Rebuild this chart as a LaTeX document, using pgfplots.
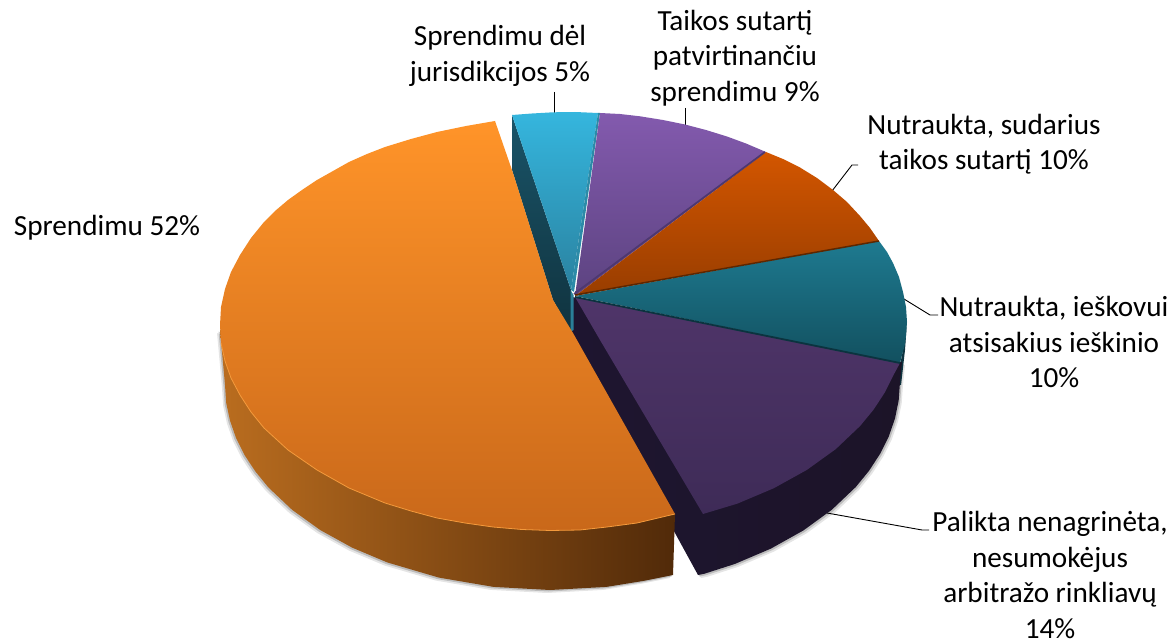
\documentclass[border=0pt]{standalone}
\usepackage{fontspec}
\setmainfont{Carlito}
\usepackage{pgfplots}
\usepackage{pgfplotstable}
\pgfplotsset{compat=1.18}
\definecolor{wallT}{HTML}{1A5468}
\definecolor{wallB}{HTML}{10333F}
\definecolor{tealSide}{HTML}{0E3440}
\definecolor{plumSL}{HTML}{1E1530}
\definecolor{plumSR}{HTML}{1C1428}
\definecolor{blueEdge}{HTML}{2A7F98}
\definecolor{blueT}{HTML}{35B6DE}
\definecolor{blueB}{HTML}{2A82A0}
\definecolor{blueEdgeB}{HTML}{2C8BA8}
\definecolor{purT}{HTML}{835AAE}
\definecolor{purB}{HTML}{5C4380}
\definecolor{purE}{HTML}{4E3870}
\definecolor{redT}{HTML}{D35600}
\definecolor{redB}{HTML}{983D00}
\definecolor{redE}{HTML}{5E2700}
\definecolor{tealT}{HTML}{1E7A90}
\definecolor{tealB}{HTML}{12505F}
\definecolor{tealE}{HTML}{0B333F}
\definecolor{plumT}{HTML}{4F3569}
\definecolor{plumB}{HTML}{3E2B57}
\definecolor{oraL}{HTML}{BA6D1F}
\definecolor{oraM}{HTML}{7A4413}
\definecolor{oraR}{HTML}{512A09}
\definecolor{oraT}{HTML}{FF9429}
\definecolor{oraB}{HTML}{C9681A}
\definecolor{oraE}{HTML}{F49A3C}
\pgfplotstableread{
x y
220 330
225 385
226.2 402.9
230 420.6
236.1 438.1
244.6 455.1
255.5 471.6
268.5 487.5
292.1 509.8
320.2 530
352.1 547.6
387.5 562.5
438.9 577.6
493.6 586.9
550 590
606.4 586.9
643 581
673 575
675 514
}\orangeside
\pgfplotstableread{
x y
495 121
466 126
437 132
411 139
385 147
367 154
349 162
333 171
317 180
302 190
288 200
275 211
264 222
251 238
240 255
231 272
225 289
221 307
220 325
221 343
225 361
231 378
240 395
251 412
264 428
288 450
317 470
349 488
385 503
411 511
437 518
465 523
493 527
522 529.5
550 530.5
580 530
607 527
637 523
675 514
573 333
553 300
513 173
}\orangetop
\pgfplotstableread{
x y
675 514
637 523
607 527
580 530
550 530.5
522 529.5
493 527
465 523
437 518
411 511
385 503
349 488
317 470
288 450
264 428
251 412
240 395
231 378
225 361
221 343
}\orangerim
\pgfplotstableread{
x y
572 297
902 362
900 382
898.7 400.3
895 418.5
888.8 436.4
880.1 453.8
869.1 470.7
855.8 487
831.8 509.8
803.3 530.5
770.9 548.6
735 563.9
704.2 573.8
698 575
675 533
572 340
}\plumside
\begin{document}
\begin{tikzpicture}
\begin{axis}[
  scale only axis, width=1176pt, height=641pt,
  xmin=0, xmax=1176, ymin=0, ymax=641, y dir=reverse,
  axis lines=none, clip=false,
  every axis plot/.append style={forget plot}
]
\path (axis cs:0,0) (axis cs:1176,641);
% leader lines
\addplot[black, line width=0.9pt] coordinates {(554,92) (554,113)};
\addplot[black, line width=0.9pt] coordinates {(685,108) (685,126)};
\addplot[black, line width=0.9pt] coordinates {(832,191) (852,165) (858,165)};
\addplot[black, line width=0.9pt] coordinates {(904,299) (930,315) (938,315)};
\addplot[black, line width=0.9pt] coordinates {(827,513) (922,530) (929,530)};
% shadows
\addplot[draw=none, fill=black, fill opacity=0.10, xshift=-3pt, yshift=-3pt] table {\orangeside};
\addplot[draw=none, fill=black, fill opacity=0.18, xshift=-1.5pt, yshift=-1.5pt] table {\orangeside};
\addplot[draw=none, fill=black, fill opacity=0.10, xshift=3pt, yshift=-3pt] table {\plumside};
\addplot[draw=none, fill=black, fill opacity=0.18, xshift=1.5pt, yshift=-1.5pt] table {\plumside};
\addplot[draw=none, fill=black!30, fill opacity=0.8] coordinates {(511,170) (513,173) (553,300) (572,334) (566,334) (548,300)};
% blue slice wall
\addplot[draw=none, top color=wallT, bottom color=wallB] coordinates {(512,115) (571,290) (571,332) (553,300) (513,173) (512,170)};
% dark sides
\addplot[draw=none, fill=tealSide] coordinates {(905,340) (907,322) (905,350) (901,385) (896,385)};
\addplot[draw=none, left color=plumSL, right color=plumSR] table {\plumside};
\addplot[draw=none, fill=blueEdge] coordinates {(570.5,290) (570.5,332) (573.5,330) (573.5,295)};
% blue top
\addplot[draw=none, top color=blueT, bottom color=blueB] coordinates {(512,115) (532,113.5) (553,112.3) (575,112) (598,113) (571,290)};
\addplot[draw=none, fill=blueEdgeB] coordinates {(598,113) (600,113) (574,292) (571,290)};
% purple top
\addplot[draw=none, top color=purT, bottom color=purB] coordinates {(600,113) (620,114) (640,116.3) (663,120) (685,124.5) (706,130) (727,136.5) (746,143.5) (766,152) (575,296)};
% red-orange top
\addplot[draw=none, top color=redT, bottom color=redB] coordinates {(766,152) (783,159) (800,167.5) (817,178) (833,190) (847,202) (860,216) (870,228) (879,241) (575,296)};
% teal top
\addplot[draw=none, top color=tealT, bottom color=tealB] coordinates {(879,241) (887,252) (893,263) (899,277) (903,292) (906,307) (907,322) (906,335) (905,344) (902,355) (900,363) (575,296)};
% plum top
\addplot[draw=none, top color=plumT, bottom color=plumB] coordinates {(900,363) (893.6,374.9) (884.8,392.5) (873.6,409.6) (860.1,426) (835.8,449.1) (806.9,469.9) (773.9,488.2) (737.5,503.6) (703,514) (600,340) (575,297)};
% edges between slices
\addplot[line width=1.8pt, color=purE] coordinates {(765,152) (574,294)};
\addplot[line width=1.5pt, color=redE] coordinates {(879,241) (575,295)};
\addplot[line width=1.8pt, color=tealE] coordinates {(900,363) (575,297)};
% orange
\addplot[draw=none, left color=oraL, middle color=oraM, right color=oraR] table {\orangeside};
\addplot[draw=none, top color=oraT, bottom color=oraB] table {\orangetop};
\addplot[line width=0.8pt, color=oraE] table {\orangerim};
% labels
\node[align=center, font=\fontsize{29.2}{35.5}\selectfont, anchor=center] at (axis cs:500,56) {Sprendimu dėl\\jurisdikcijos 5\%};
\node[align=center, font=\fontsize{29.2}{35.5}\selectfont, anchor=center] at (axis cs:735,58) {Taikos sutartį\\patvirtinančiu\\sprendimu 9\%};
\node[align=center, font=\fontsize{29.2}{35.5}\selectfont, anchor=center] at (axis cs:984,144) {Nutraukta, sudarius\\taikos sutartį 10\%};
\node[align=center, font=\fontsize{29.2}{35.5}\selectfont, anchor=center] at (axis cs:1054,342) {Nutraukta, ieškovui\\atsisakius ieškinio\\10\%};
\node[align=center, font=\fontsize{29.2}{35.5}\selectfont, anchor=center] at (axis cs:1050,575) {Palikta nenagrinėta,\\nesumokėjus\\arbitražo rinkliavų\\14\%};
\node[font=\fontsize{29.2}{35.5}\selectfont, anchor=center] at (axis cs:107,228) {Sprendimu 52\%};
\end{axis}
\end{tikzpicture}
\end{document}
